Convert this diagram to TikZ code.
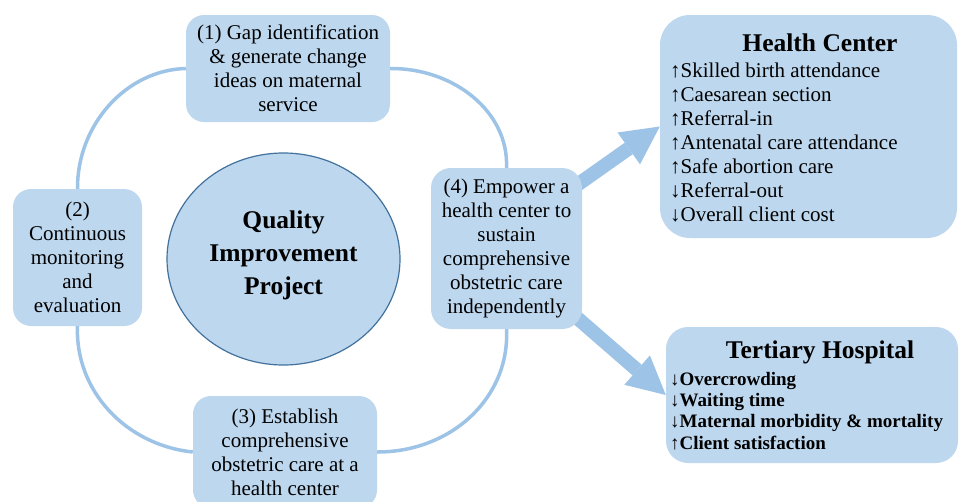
\documentclass[tikz,border=0pt]{standalone}
\usepackage{fontspec}
\setmainfont{Liberation Serif}
\usetikzlibrary{arrows.meta,shapes.geometric,backgrounds}
\definecolor{boxfill}{RGB}{189,215,238}
\definecolor{linkc}{RGB}{157,195,230}
\definecolor{ellb}{RGB}{65,113,156}
\tikzset{
  stepbox/.style={fill=boxfill, rounded corners=18pt, align=center, inner sep=0pt,
    font=\fontsize{21}{24}\selectfont},
  bigbox/.style={fill=boxfill, inner sep=0pt},
  link/.style={draw=linkc, line width=3.5pt},
  bigarrow/.style={draw=linkc, line width=14pt,
    -{Triangle[length=38pt,width=39pt,line width=0pt]}},
  titletext/.style={font=\fontsize{25.5}{30}\selectfont\bfseries, inner sep=0pt},
}
\begin{document}
\begin{tikzpicture}[x=1pt,y=-1pt]
\useasboundingbox (0,0) rectangle (960,501);

% central ellipse
\node[ellipse, draw=ellb, line width=1.2pt, fill=boxfill, minimum width=233pt,
      minimum height=212pt, inner sep=0pt] (qi) at (283.5,259) {};
\node[align=center, inner sep=0pt, font=\fontsize{25.5}{33}\selectfont\bfseries]
      (qit) at (283.5,255) {Quality\\Improvement\\Project};

% cycle boxes
\node[stepbox, minimum width=204pt, minimum height=107pt] (b1) at (288,68.5)
  {(1) Gap identification\\\& generate change\\ideas on maternal\\service};
\node[stepbox, minimum width=129pt, minimum height=137pt] (b2) at (77.5,257.5)
  {(2)\\Continuous\\monitoring\\and\\evaluation};
\node[stepbox, minimum width=184pt, minimum height=112pt] (b3) at (285,452)
  {(3) Establish\\comprehensive\\obstetric care at a\\health center};
\node[stepbox, minimum width=151pt, minimum height=161pt, rounded corners=20pt] (b4) at (506.5,248.5)
  {(4) Empower a\\health center to\\sustain\\comprehensive\\obstetric care\\independently};

% outcome boxes
\node[bigbox, rounded corners=30pt, minimum width=297pt, minimum height=223pt] (hc) at (808.5,126.5) {};
\node[titletext] (hct) at (820,43) {Health Center};
\node[anchor=west, align=left, inner sep=0pt, font=\fontsize{21}{24}\selectfont] (hcl) at (670,143)
  {↑Skilled birth attendance\\↑Caesarean section\\↑Referral-in\\↑Antenatal care attendance\\↑Safe abortion care\\↓Referral-out\\↓Overall client cost};

\node[bigbox, rounded corners=22pt, minimum width=292pt, minimum height=136pt] (th) at (812,395) {};
\node[titletext] (tht) at (820,352) {Tertiary Hospital};
\node[anchor=west, align=left, inner sep=0pt, font=\fontsize{19}{21.3}\selectfont\bfseries] (thl) at (670,411)
  {↓Overcrowding\\↓Waiting time\\↓Maternal morbidity \& mortality\\↑Client satisfaction};

% cycle connectors
\draw[link] (b1.west) .. controls (126,70) and (77,125) .. (b2.north);
\draw[link] (b1.east) .. controls (454,68) and (509,112) .. (b4.north);
\draw[link] (b2.south) .. controls (75,391) and (126,445) .. (b3.west);
\draw[link] (b4.south) .. controls (510,397) and (452,452) .. (b3.east);

% big arrows
\coordinate (a1s) at (560,197);
\coordinate (a2s) at (560,303);
\begin{scope}[on background layer]
\draw[bigarrow] (a1s) -- (hc.west);
\draw[bigarrow] (a2s) -- (th.west);
\end{scope}
\end{tikzpicture}
\end{document}
